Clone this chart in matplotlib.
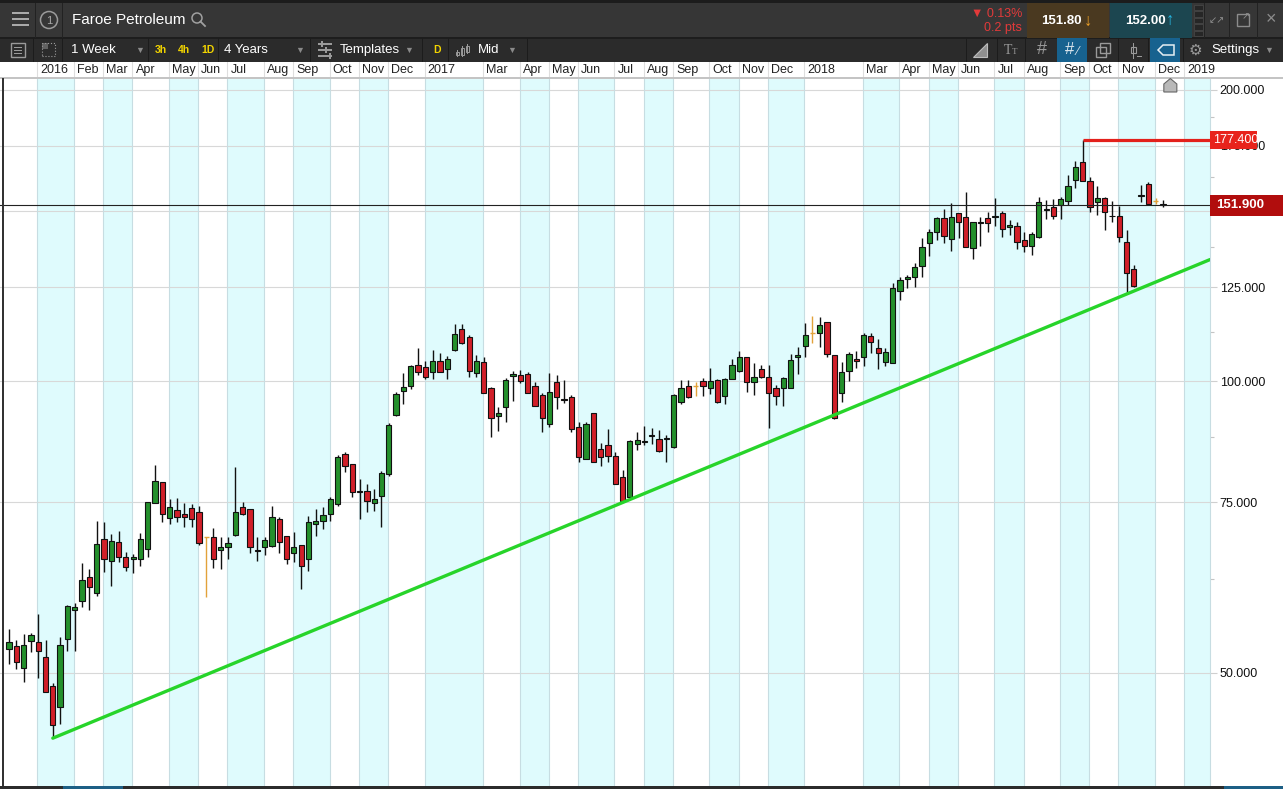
import numpy as np
import pandas as pd
import matplotlib
matplotlib.use('Agg')
import matplotlib.pyplot as plt
from matplotlib.patches import Rectangle, Polygon, Ellipse
from matplotlib.ticker import FixedLocator, NullFormatter, FuncFormatter

plt.rcParams['font.family'] = ['Liberation Sans', 'DejaVu Sans']

W, H = 1283, 789

# weekly bars, each labelled by its Friday, first one 4 Dec 2015
first_week = '2015-12-04'

opens = [52.9, 53.3, 50.6, 53.9, 53.8, 51.9, 48.5, 46.1, 54.2, 58.1,
         59.3, 62.8, 60.4, 68.7, 65.2, 68.2, 65.8, 65.6, 65.5, 67.1,
         74.8, 78.7, 72.2, 73.6, 73.0, 73.9, 73.2, 69.0, 69.0, 66.9,
         67.4, 69.3, 74.1, 73.8, 67.0, 67.4, 67.6, 72.0, 69.2, 66.4,
         67.7, 65.6, 71.2, 71.7, 72.9, 74.6, 84.1, 82.1, 77.0, 77.1,
         74.8, 76.2, 80.2, 92.2, 97.6, 98.8, 103.9, 103.4, 102.2, 104.9,
         102.9, 107.7, 113.2, 111.0, 101.9, 104.6, 98.3, 92.0, 94.0, 101.2,
         101.4, 101.7, 98.8, 96.7, 90.3, 99.8, 95.8, 96.3, 89.6, 83.1,
         92.7, 85.1, 85.9, 83.7, 79.6, 75.9, 86.1, 86.6, 87.8, 87.1,
         87.2, 85.5, 95.1, 98.8, 98.8, 100.0, 98.3, 100.2, 96.5, 100.5,
         102.4, 105.9, 99.8, 102.9, 101.0, 98.3, 98.3, 98.3, 105.9, 108.7,
         112.1, 112.1, 115.1, 106.4, 97.2, 102.4, 105.4, 105.9, 111.3, 108.2,
         104.6, 104.4, 123.9, 127.5, 128.1, 131.5, 138.9, 142.5, 147.3, 140.2,
         149.1, 147.7, 137.2, 145.7, 147.3, 147.8, 149.1, 144.2, 144.5, 139.8,
         137.9, 140.8, 150.3, 151.3, 152.0, 153.4, 161.3, 168.3, 160.9, 153.0,
         154.5, 148.2, 148.0, 139.2, 130.5, 155.4, 159.7, 153.4, 152.3]

highs = [55.5, 54.1, 54.8, 54.9, 57.5, 54.1, 48.8, 54.5, 58.8, 59.0,
         64.9, 64.0, 71.8, 71.5, 69.5, 70.0, 66.7, 66.3, 69.7, 75.0,
         81.9, 78.7, 75.5, 75.7, 74.8, 74.6, 74.4, 69.0, 70.5, 69.0,
         69.0, 81.5, 75.0, 73.8, 69.0, 69.0, 74.4, 72.4, 69.2, 69.8,
         67.7, 72.5, 73.8, 74.1, 75.9, 83.9, 84.5, 82.1, 79.2, 78.3,
         77.3, 80.8, 90.5, 97.4, 101.9, 103.9, 108.2, 104.9, 107.7, 106.9,
         106.1, 114.5, 114.5, 111.6, 106.4, 105.9, 98.6, 94.0, 100.7, 102.4,
         102.6, 102.2, 99.8, 97.2, 101.9, 101.4, 100.2, 96.7, 90.7, 90.7,
         92.7, 86.3, 89.2, 84.5, 81.0, 86.9, 88.6, 89.8, 89.4, 89.0,
         87.9, 96.9, 100.2, 100.2, 99.8, 100.7, 103.1, 100.5, 100.7, 105.4,
         107.4, 105.9, 104.4, 103.9, 103.9, 99.1, 101.0, 106.6, 108.4, 114.8,
         116.7, 116.4, 115.1, 106.4, 104.6, 107.1, 107.4, 112.1, 112.1, 110.5,
         108.2, 126.2, 128.1, 128.7, 132.4, 140.5, 143.5, 147.7, 150.5, 152.7,
         149.1, 156.8, 145.9, 147.7, 149.5, 154.5, 149.8, 146.6, 145.9, 142.5,
         142.5, 154.9, 153.8, 154.2, 154.9, 163.2, 168.7, 177.4, 162.5, 159.0,
         154.9, 153.4, 151.6, 143.2, 131.8, 159.4, 160.5, 154.5, 153.8]

lows = [51.1, 50.4, 48.9, 52.5, 49.4, 47.8, 42.8, 44.3, 52.6, 52.6,
        58.4, 58.0, 60.0, 63.5, 61.4, 65.0, 63.7, 63.4, 64.4, 65.8,
        74.8, 71.5, 71.2, 71.5, 70.7, 70.7, 67.7, 59.8, 64.1, 64.0,
        65.5, 69.2, 72.7, 66.4, 65.2, 66.1, 67.4, 66.4, 64.7, 65.0,
        61.0, 63.7, 69.2, 70.3, 71.8, 74.3, 80.6, 75.9, 72.0, 73.2,
        73.4, 70.7, 79.8, 92.0, 94.7, 98.1, 101.4, 100.5, 100.5, 102.2,
        100.5, 107.4, 109.2, 101.0, 101.0, 97.2, 87.5, 88.8, 90.7, 95.4,
        99.5, 97.2, 94.2, 88.6, 89.6, 93.6, 94.9, 88.6, 82.5, 83.1,
        82.5, 81.7, 82.5, 78.3, 75.0, 75.7, 84.9, 85.9, 86.1, 84.5,
        82.5, 85.3, 94.7, 96.0, 96.5, 96.5, 96.9, 94.9, 94.7, 100.5,
        102.2, 97.4, 96.7, 100.7, 89.4, 94.5, 94.2, 98.3, 101.7, 105.9,
        109.5, 108.4, 105.9, 91.4, 95.1, 100.0, 103.1, 103.6, 106.9, 102.9,
        103.6, 104.4, 121.2, 124.7, 125.0, 128.1, 134.6, 139.8, 138.9, 136.2,
        140.5, 137.5, 133.7, 137.9, 142.5, 144.5, 140.8, 141.5, 136.9, 135.9,
        135.0, 140.5, 147.0, 147.0, 147.0, 152.0, 158.2, 160.9, 149.5, 148.4,
        143.2, 145.9, 139.2, 123.0, 125.0, 153.0, 152.3, 152.3, 151.3]

closes = [53.8, 51.3, 53.4, 54.7, 52.6, 47.8, 44.2, 53.4, 58.6, 58.4,
          62.3, 61.3, 67.9, 65.6, 68.4, 65.9, 64.3, 65.9, 68.8, 75.0,
          78.9, 72.9, 74.1, 72.4, 72.4, 72.0, 68.1, 69.0, 65.6, 67.4,
          68.1, 73.2, 73.0, 67.4, 66.8, 68.5, 72.4, 68.2, 65.5, 67.4,
          64.4, 71.5, 71.8, 72.7, 75.5, 83.5, 81.7, 76.8, 76.9, 75.2,
          75.5, 80.4, 90.1, 96.9, 98.6, 103.6, 102.2, 101.0, 104.9, 102.2,
          105.4, 111.8, 109.5, 102.4, 104.9, 97.2, 91.6, 92.7, 100.2, 101.7,
          100.0, 97.2, 94.2, 91.6, 97.4, 96.3, 95.6, 89.2, 83.5, 90.3,
          82.5, 83.5, 83.7, 78.3, 75.2, 86.7, 86.9, 86.8, 88.0, 84.7,
          87.4, 96.7, 98.3, 96.3, 98.8, 98.8, 100.0, 95.1, 100.5, 103.9,
          105.9, 99.8, 101.0, 101.0, 97.2, 96.5, 100.7, 105.1, 106.4, 111.6,
          112.1, 114.2, 106.6, 91.6, 102.2, 106.6, 104.9, 111.6, 109.7, 106.9,
          107.1, 124.7, 127.2, 128.1, 131.1, 137.5, 142.5, 147.3, 141.2, 147.7,
          145.9, 137.5, 145.9, 146.0, 145.6, 148.1, 143.5, 144.9, 139.2, 137.9,
          141.9, 153.0, 150.6, 148.0, 154.2, 159.0, 166.4, 160.9, 151.3, 154.5,
          149.5, 148.0, 140.8, 129.3, 125.3, 155.7, 152.3, 153.4, 151.9]

last_price = 151.9
high_mark = 177.4
bid_price = '151.80'
ask_price = '152.00'
change_txt = ['\u25bc 0.13%', '0.2 pts']
trend_idx = [6, 153]           # trend line drawn through these two weekly lows
trend_price = [42.8, 123.0]
price_ticks = [50, 75, 100, 125, 150, 175, 200]
hidden_ticks = [150]           # covered by the last-price flag
hidden_labels = ['2017-02', '2018-02']

CYAN = '#dffbfd'
GRID = '#d8d8d8'
VLINE = '#c7dde2'
UP = '#24902c'
DOWN = '#d11f29'
FLAT = '#e2a23a'


def fx(x):
    return x / W


def fy(y):
    return 1 - y / H


def rect(x0, y0, x1, y1, fc, ec='none', lw=0, z=1, **kw):
    fig.add_artist(Rectangle((fx(x0), fy(y1)), (x1 - x0) / W, (y1 - y0) / H,
                             transform=fig.transFigure, fc=fc, ec=ec, lw=lw,
                             zorder=z, **kw))


def label(x, y, s, **kw):
    kw.setdefault('va', 'center')
    kw.setdefault('zorder', 12)
    fig.text(fx(x), fy(y), s, **kw)


def vline(x, y0, y1, color, lw=1, z=2):
    rect(x, y0, x + lw, y1, color, z=z)


fig = plt.figure(figsize=(W / 100, H / 100), dpi=100)
fig.patch.set_facecolor('white')

# ---------------- chart area ----------------
top_px, bot_px, right_px = 78, 786, 1210
ax = fig.add_axes([0, fy(bot_px), fx(right_px), (bot_px - top_px) / H])
ax.set_facecolor('white')
ax.set_yscale('log')
ax.set_xlim(-1.23, 164.43)
ax.set_ylim(38.2, 205.6)
x_right = ax.get_xlim()[1]

o = np.array(opens)
h = np.array(highs)
l = np.array(lows)
c = np.array(closes)
idx = np.arange(len(o))

# month boundaries (first weekly bar of every month)
weeks = pd.date_range(first_week, periods=170, freq='7D')
ym = weeks.strftime('%Y-%m')
starts = [i for i in range(1, len(weeks)) if ym[i] != ym[i - 1] and i < x_right]
shown = []
for i in starts:
    if ym[i] in hidden_labels:
        continue
    txt = str(weeks[i].year) if weeks[i].month == 1 else weeks[i].strftime('%b')
    shown.append((i - 0.1, txt))

for k, (xb, txt) in enumerate(shown):
    xe = shown[k + 1][0] if k + 1 < len(shown) else x_right
    if k % 2 == 0:
        ax.axvspan(xb, xe, color=CYAN, lw=0, zorder=0)
    ax.axvline(xb, color=VLINE, lw=0.8, zorder=1)

# price grid and right axis
minor_ticks = [(a + b) / 2 for a, b in zip(price_ticks[:-1], price_ticks[1:])]
ax.yaxis.tick_right()
ax.yaxis.set_major_locator(FixedLocator(price_ticks))
ax.yaxis.set_major_formatter(FuncFormatter(lambda v, p: '' if round(v) in hidden_ticks else f'{v:.3f}'))
ax.yaxis.set_minor_locator(FixedLocator(minor_ticks))
ax.yaxis.set_minor_formatter(NullFormatter())
ax.tick_params(axis='y', which='major', length=5, width=0.8, color='#cfcfcf',
               labelsize=9, pad=2, labelcolor='#111111')
ax.tick_params(axis='y', which='minor', length=3, width=0.8, color='#c4c4c4')
ax.set_xticks([])
ax.grid(axis='y', which='major', color=GRID, lw=0.8, zorder=1)
ax.set_axisbelow(True)
for s in ['left', 'top', 'bottom']:
    ax.spines[s].set_visible(False)
ax.spines['right'].set_color(VLINE)
ax.spines['right'].set_linewidth(0.8)

# candles
flat = o == c
norm = ~flat
body_col = np.where(c > o, UP, DOWN)
ax.vlines(idx[norm], l[norm], h[norm], color='#111111', lw=1, zorder=3)
ax.bar(idx[norm], np.abs(c - o)[norm], bottom=np.minimum(o, c)[norm], width=0.72,
       color=body_col[norm], edgecolor='#111111', linewidth=0.8, zorder=4)
ax.vlines(idx[flat], l[flat], h[flat], color=FLAT, lw=1, zorder=3)
ax.hlines(o[flat], idx[flat] - 0.35, idx[flat] + 0.35, color=FLAT, lw=1, zorder=3)

# last price line and high marker
ax.axhline(last_price, color='#222222', lw=0.8, zorder=5)
hi_i = int(np.argmax(h))
ax.hlines(high_mark, hi_i, x_right, color='#e3201b', lw=2.3, zorder=5)

# trend line (straight on the log scale) extended to the right edge
slope = (np.log(trend_price[1]) - np.log(trend_price[0])) / (trend_idx[1] - trend_idx[0])
tx = np.array([trend_idx[0], x_right])
ty = np.exp(np.log(trend_price[0]) + slope * (tx - trend_idx[0]))
ax.plot(tx, ty, color='#27d42a', lw=2.4, zorder=6, solid_capstyle='round')


def price_px(p):
    return H - ax.transData.transform((0, p))[1]


def index_px(i):
    return ax.transData.transform((i, 100))[0]


# price flags on the right axis
yl = price_px(last_price)
rect(1210, yl - 10.5, 1283, yl + 10.5, '#b10d0d', z=10)
label(1216, yl, f'{last_price:.3f}', color='white', fontsize=9.5, fontweight='bold')
yh = price_px(high_mark)
rect(1210, yh - 9, 1257, yh + 9, '#e8231c', z=10)
label(1213, yh, f'{high_mark:.3f}', color='white', fontsize=9)

# "latest bar" marker at the top
xm = index_px(len(o))
fig.add_artist(Polygon([(fx(xm - 6.5), fy(92)), (fx(xm + 6.5), fy(92)), (fx(xm + 6.5), fy(84)),
                        (fx(xm), fy(78.5)), (fx(xm - 6.5), fy(84))], closed=True,
                       transform=fig.transFigure, fc='#b9b9b9', ec='#666666', lw=0.8, zorder=10))

# window borders
rect(2, 78, 3.5, 786, '#333333', z=9)
rect(0, 786, 1283, 789, '#2b2b2b', z=9)
rect(63, 786, 123, 789, '#1d5f85', z=9)
rect(1224, 786, 1283, 789, '#1d5f85', z=9)

# ---------------- date row ----------------
dax = fig.add_axes([0, fy(78), fx(1283), 16 / H])
dax.set_xlim(-1.23, -1.23 + (x_right + 1.23) * 1283 / 1210)
dax.set_ylim(0, 1)
dax.axis('off')
for xb, txt in shown:
    dax.axvline(xb, color='#dedede', lw=0.8)
    dax.text(xb + 0.42, 0.5, txt, fontsize=9, color='#222222', va='center', ha='left')
rect(0, 77.5, 1283, 78.5, '#c4c4c4', z=8)

# ---------------- title bar ----------------
rect(0, 0, 1283, 3, '#1c1c1c', z=1)
rect(0, 3, 1283, 38, '#363636', z=1)
rect(0, 38, 1283, 62, '#2b2b2b', z=1)
rect(0, 37.5, 1283, 38.5, '#1d1d1d', z=2)
for y in (13, 19, 25):
    rect(12, y - 1, 29, y + 1, '#a9a9a9', z=3)
vline(35, 3, 38, '#222222')
vline(62, 3, 38, '#222222')
fig.add_artist(Ellipse((fx(49), fy(20)), 17 / W, 17 / H, transform=fig.transFigure,
                       fc='none', ec='#9b9b9b', lw=1.1, zorder=3))
label(49, 20.5, '1', color='#a8a8a8', fontsize=8, ha='center')
label(72, 20, 'Faroe Petroleum', color='white', fontsize=11)
fig.add_artist(Ellipse((fx(197), fy(18)), 10 / W, 10 / H, transform=fig.transFigure,
                       fc='none', ec='#a0a0a0', lw=1.1, zorder=3))
fig.add_artist(plt.Line2D([fx(200.5), fx(205)], [fy(21.5), fy(26)], transform=fig.transFigure,
                          color='#a0a0a0', lw=1.3, zorder=3))

# quote boxes
label(1022, 13.5, change_txt[0], color='#e23a3a', fontsize=9, ha='right')
label(1022, 28, change_txt[1], color='#e23a3a', fontsize=9, ha='right')
rect(1027, 3, 1109, 37.5, '#4a3920', z=2)
label(1061, 20.5, bid_price, color='white', fontsize=9.5, fontweight='bold', ha='center')
label(1088, 21, '\u2193', color='#f0a126', fontsize=12, fontweight='bold', ha='center')
rect(1110, 3, 1192, 37.5, '#1c4650', z=2)
label(1145, 20.5, ask_price, color='white', fontsize=9.5, fontweight='bold', ha='center')
label(1170, 20, '\u2191', color='#27b7e3', fontsize=12, fontweight='bold', ha='center')
for k in range(5):
    rect(1194, 5 + k * 6.5, 1203, 10 + k * 6.5, '#262626', ec='#4a4a4a', lw=0.5, z=3)
vline(1204, 3, 38, '#222222')
label(1217, 20, '\u2199\u2197', color='#8c8c8c', fontsize=7, ha='center')
vline(1229, 3, 38, '#222222')
rect(1237, 14, 1249, 26, 'none', ec='#8c8c8c', lw=1, z=3)
label(1246, 16, '\u2197', color='#8c8c8c', fontsize=7, ha='center')
vline(1257, 3, 38, '#222222')
label(1271, 20, '\u00d7', color='#8c8c8c', fontsize=13, ha='center')

# ---------------- toolbar ----------------
rect(11, 43, 25, 57, 'none', ec='#9a9a9a', lw=1, z=3)
for y in (47, 50, 53):
    rect(14, y, 22, y + 0.8, '#9a9a9a', z=3)
vline(33, 38, 62, '#1c1c1c')
rect(42, 43, 55, 56, 'none', ec='#9a9a9a', lw=0.8, z=3, ls=':')
rect(42, 43, 48, 49, '#9a9a9a', z=3, alpha=0.5)
vline(62, 38, 62, '#1c1c1c')
label(71, 50, '1 Week', color='white', fontsize=9.5)
label(140, 50, '\u25bc', color='#8a8a8a', fontsize=6.5, ha='center')
vline(148, 38, 62, '#1c1c1c')
for xt, t in [(155, '3h'), (178, '4h'), (201, '1D')]:
    label(xt, 50, t, color='#f2d400', fontsize=7.5, fontweight='bold')
vline(218, 38, 62, '#1c1c1c')
label(224, 50, '4 Years', color='white', fontsize=9.5)
label(300, 50, '\u25bc', color='#8a8a8a', fontsize=6.5, ha='center')
vline(310, 38, 62, '#1c1c1c')
for k, y in enumerate((44, 50, 56)):
    rect(318, y - 0.6, 332, y + 0.6, '#9a9a9a', z=3)
    rect(321 + 4 * k, y - 2.5, 323 + 4 * k, y + 2.5, '#9a9a9a', z=3)
label(340, 50, 'Templates', color='white', fontsize=9.5)
label(409, 50, '\u25bc', color='#8a8a8a', fontsize=6.5, ha='center')
vline(422, 38, 62, '#1c1c1c')
label(433, 50, 'D', color='#f2d400', fontsize=7.5, fontweight='bold')
vline(448, 38, 62, '#1c1c1c')
for k, (y0, y1) in enumerate([(50, 57), (46, 57), (44, 54)]):
    vline(457 + 5 * k, y0, y1, '#9a9a9a')
    rect(456 + 5 * k, y0 + 2, 459 + 5 * k, y1 - 2, 'none', ec='#9a9a9a', lw=0.7, z=3)
label(478, 50, 'Mid', color='white', fontsize=9.5)
label(512, 50, '\u25bc', color='#8a8a8a', fontsize=6.5, ha='center')
vline(527, 38, 62, '#1c1c1c')

# right side of toolbar
for xs in (966, 997, 1025, 1118, 1148, 1183):
    vline(xs, 38, 62, '#1c1c1c')
fig.add_artist(Polygon([(fx(973), fy(57)), (fx(987), fy(57)), (fx(987), fy(43))], closed=True,
                       transform=fig.transFigure, fc='#8f8f8f', ec='#bdbdbd', lw=0.8, zorder=3))
label(1004, 51, 'T', color='#9a9a9a', fontsize=10, family='Liberation Serif')
label(1012, 52, 'T', color='#9a9a9a', fontsize=6.5, family='Liberation Serif')
label(1042, 50, '#', color='#9a9a9a', fontsize=13, ha='center')
rect(1057, 38.5, 1087, 62, '#17628f', z=2)
label(1070, 50, '#', color='#dfe8ee', fontsize=12, ha='center')
label(1078, 52, '\u2215', color='#dfe8ee', fontsize=9, ha='center')
rect(1096, 47, 1106, 57, 'none', ec='#9a9a9a', lw=1, z=3)
rect(1100, 43, 1110, 53, 'none', ec='#9a9a9a', lw=1, z=3)
vline(1133, 43, 59, '#9a9a9a')
rect(1131, 47, 1136, 53, 'none', ec='#9a9a9a', lw=0.8, z=3)
rect(1137, 56, 1142, 57, '#9a9a9a', z=3)
rect(1150, 38.5, 1180, 62, '#17628f', z=2)
fig.add_artist(Polygon([(fx(1158), fy(50)), (fx(1163), fy(45)), (fx(1174), fy(45)),
                        (fx(1174), fy(55)), (fx(1163), fy(55))], closed=True,
                       transform=fig.transFigure, fc='none', ec='#e6eef3', lw=1.1, zorder=3))
label(1195, 50, '\u2699', color='#9a9a9a', fontsize=11, ha='center', family='DejaVu Sans')
label(1211, 50, 'Settings', color='white', fontsize=9.5)
label(1269, 50, '\u25bc', color='#8a8a8a', fontsize=6.5, ha='center')

fig.savefig('out.png', dpi=100, facecolor=fig.get_facecolor())
